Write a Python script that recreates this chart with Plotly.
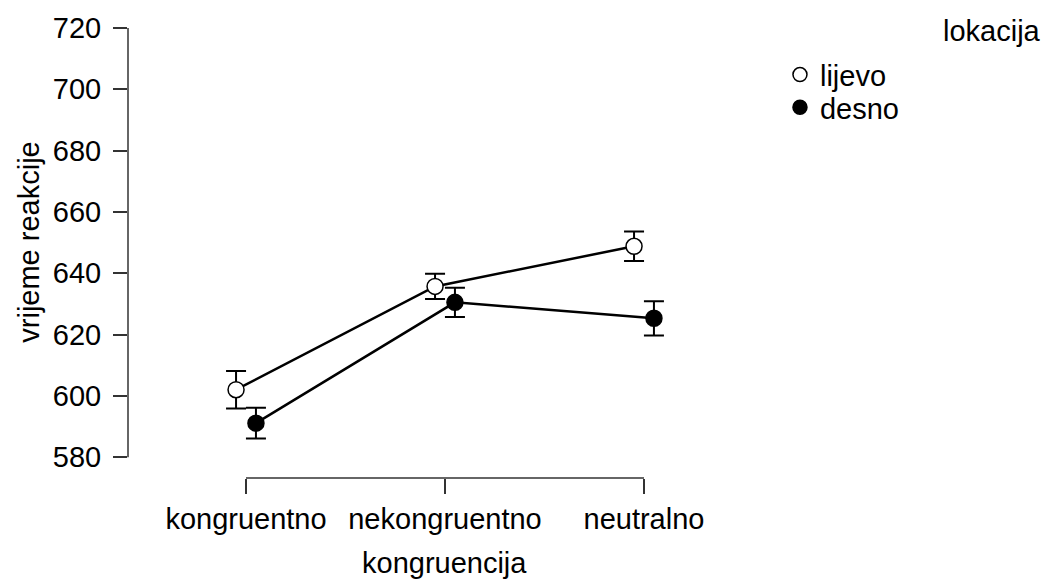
import plotly.graph_objects as go

# Reaction times by congruency condition and stimulus location
categories = ["kongruentno", "nekongruentno", "neutralno"]
y_ticks = [580, 600, 620, 640, 660, 680, 700, 720]

lijevo_mean = [602.0, 635.7, 648.8]
lijevo_err = [6.1, 4.1, 4.8]
desno_mean = [591.1, 630.5, 625.3]
desno_err = [5.0, 4.8, 5.6]

FONT = "Liberation Sans, Arial, sans-serif"
FS = 29
DODGE = 0.05

cat_idx = list(range(len(categories)))
x_left = [i - DODGE for i in cat_idx]
x_right = [i + DODGE for i in cat_idx]

fig = go.Figure()

series = [
    ("lijevo", x_left, lijevo_mean, lijevo_err, "white", "legend"),
    ("desno", x_right, desno_mean, desno_err, "black", "legend2"),
]

for name, xs, ys, errs, fill, _ in series:
    fig.add_trace(go.Scatter(
        x=xs, y=ys, mode="lines+markers", name=name, showlegend=False,
        line=dict(color="black", width=2.5),
        marker=dict(size=16, color=fill, line=dict(color="black", width=1.5)),
        error_y=dict(type="data", array=errs, visible=True,
                     color="black", thickness=2, width=10),
    ))

# legend entries (markers only), one legend box per entry
for name, _, _, _, fill, leg in series:
    fig.add_trace(go.Scatter(
        x=[None], y=[None], mode="markers", name=name, legend=leg,
        marker=dict(size=14, color=fill, line=dict(color="black", width=1.5)),
    ))

# range-frame axes
line_col = "#333333"
fig.add_shape(type="line", xref="x", yref="paper",
              x0=cat_idx[0], x1=cat_idx[-1], y0=0, y1=0,
              line=dict(color=line_col, width=1.5))
fig.add_shape(type="line", xref="paper", yref="y",
              x0=0, x1=0, y0=y_ticks[0], y1=y_ticks[-1],
              line=dict(color=line_col, width=1.5))

fig.add_annotation(text="vrijeme reakcije", xref="paper", yref="y",
                   x=-0.158, y=650, textangle=-90, showarrow=False,
                   xanchor="center", yanchor="middle",
                   font=dict(family=FONT, size=FS, color="black"))
fig.add_annotation(text="kongruencija", xref="x", yref="paper",
                   x=1, y=-0.188, showarrow=False,
                   xanchor="center", yanchor="middle",
                   font=dict(family=FONT, size=FS, color="black"))
fig.add_annotation(text="lokacija", xref="paper", yref="paper",
                   x=1.447, y=0.994, showarrow=False,
                   xanchor="right", yanchor="middle",
                   font=dict(family=FONT, size=FS, color="black"))

legend_style = dict(xanchor="left", yanchor="middle",
                    font=dict(family=FONT, size=FS, color="black"),
                    bgcolor="rgba(0,0,0,0)", itemsizing="trace")

fig.update_layout(
    width=1044, height=579,
    margin=dict(l=128, r=284, t=25, b=101),
    paper_bgcolor="white", plot_bgcolor="white",
    font=dict(family=FONT, size=FS, color="black"),
    xaxis=dict(range=[-0.593, 2.583], tickvals=cat_idx, ticktext=categories,
               showline=False, showgrid=False, zeroline=False,
               ticks="outside", ticklen=15, tickwidth=1.5, tickcolor=line_col,
               tickfont=dict(family=FONT, size=FS, color="black")),
    yaxis=dict(range=[573.2, 720], tickvals=y_ticks,
               showline=False, showgrid=False, zeroline=False,
               ticks="outside", ticklen=14, tickwidth=1.5, tickcolor=line_col,
               ticklabelstandoff=6,
               tickfont=dict(family=FONT, size=FS, color="black")),
    legend=dict(x=1.0316, y=0.8962, **legend_style),
    legend2=dict(x=1.0316, y=0.8234, **legend_style),
    showlegend=True,
)

fig.write_html("out.html")
